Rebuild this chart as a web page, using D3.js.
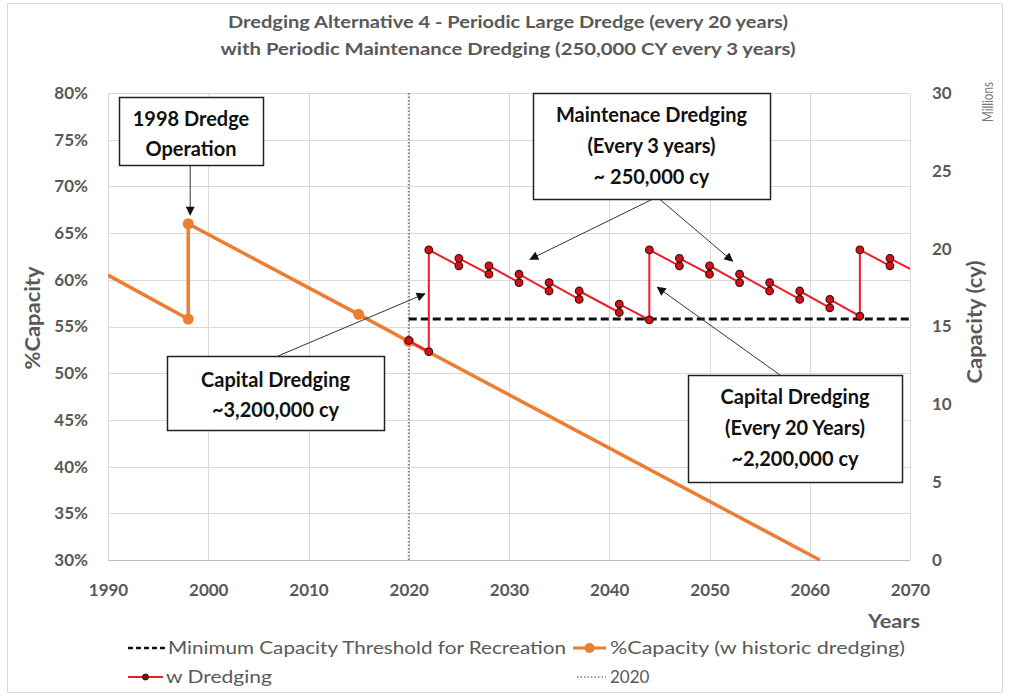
<!DOCTYPE html>
<html>
<head>
<meta charset="utf-8">
<script src="https://cdn.jsdelivr.net/npm/d3@7"></script>
<style>
  body { margin: 0; background: #fff; }
  svg text { font-family: Lato, "Open Sans", "DejaVu Sans", sans-serif; }
</style>
</head>
<body>
<svg id="chart" width="1010" height="696"></svg>
<script>
// ---- data ----
const titleLines = [
  "Dredging Alternative 4 - Periodic Large Dredge (every 20 years)",
  "with Periodic Maintenance Dredging (250,000 CY every 3 years)"
];

// historic capacity (%), with the 1998 dredge operation
const historicYears = [1990, 1998, 1998, 2015, 2020, 2061];
const historicPct   = [60.5, 55.8, 66.0, 56.3, 53.4, 30.0];
const historicMarked = [false, true, true, true, true, false];

// capacity with capital + maintenance dredging (%)
const dredgeYears = [2020, 2022, 2022, 2025, 2025, 2028, 2028, 2031, 2031, 2034, 2034,
                     2037, 2037, 2041, 2041, 2044, 2044, 2047, 2047, 2050, 2050, 2053, 2053,
                     2056, 2056, 2059, 2059, 2062, 2062, 2065, 2065, 2068, 2068, 2071];
const dredgePct   = [53.5, 52.3, 63.2, 61.5, 62.3, 60.6, 61.5, 59.7, 60.6, 58.8, 59.7,
                     57.9, 58.8, 56.5, 57.4, 55.7, 63.2, 61.5, 62.3, 60.6, 61.5, 59.7, 60.6,
                     58.8, 59.7, 57.9, 58.8, 57.0, 57.9, 56.1, 63.2, 61.5, 62.3, 60.6];

// minimum capacity threshold for recreation (%)
const thresholdYears = [2020, 2070];
const thresholdPct   = [55.8, 55.8];

// 2020 reference line
const refYears = [2020, 2020];
const refPct   = [30, 80];

const xTicks = [1990, 2000, 2010, 2020, 2030, 2040, 2050, 2060, 2070];
const leftTicks = [30, 35, 40, 45, 50, 55, 60, 65, 70, 75, 80];
const rightTicks = [0, 5, 10, 15, 20, 25, 30];

const legendLabels = [
  "Minimum Capacity Threshold for Recreation",
  "%Capacity (w historic dredging)",
  "w Dredging",
  "2020"
];

// ---- layout ----
const plot = { left: 108, right: 910, top: 93, bottom: 560 };
const grey = "#595959";
const orange = "#ED7D31";
const red = "#EE1C25";

const svg = d3.select("#chart");

const x = d3.scaleLinear().domain([1990, 2070]).range([plot.left, plot.right]);
const yL = d3.scaleLinear().domain([30, 80]).range([plot.bottom, plot.top]);
const yR = d3.scaleLinear().domain([0, 30]).range([plot.bottom, plot.top]);

function fit(sel, w) {
  sel.each(function () {
    const L = this.getComputedTextLength();
    if (Math.abs(L - w) / w > 0.015) {
      d3.select(this).attr("textLength", w).attr("lengthAdjust", "spacingAndGlyphs");
    }
  });
}

// outer frame
svg.append("rect").attr("x", 7.5).attr("y", 3.5).attr("width", 995).attr("height", 689)
  .attr("fill", "#fff").attr("stroke", "#d9d9d9");

// defs: clip + arrowhead
const defs = svg.append("defs");
defs.append("clipPath").attr("id", "plotClip").append("rect")
  .attr("x", plot.left).attr("y", plot.top - 10)
  .attr("width", plot.right - plot.left).attr("height", plot.bottom - plot.top + 20);
defs.append("marker").attr("id", "arrow").attr("viewBox", "0 0 10 10")
  .attr("refX", 9).attr("refY", 5).attr("markerWidth", 11).attr("markerHeight", 9)
  .attr("markerUnits", "userSpaceOnUse").attr("orient", "auto")
  .append("path").attr("d", "M0,0 L10,5 L0,10 Z").attr("fill", "#111");

// title
svg.append("g").selectAll("text").data(titleLines).join("text")
  .attr("x", 508).attr("y", (d, i) => 28 + i * 27)
  .attr("text-anchor", "middle").attr("font-size", 17).attr("font-weight", 700)
  .attr("fill", grey).text(d => d)
  .call(s => s.each(function (d, i) { fit(d3.select(this), i === 0 ? 560 : 575); }));

// gridlines
const grid = svg.append("g").attr("stroke", "#d9d9d9").attr("stroke-width", 1);
grid.selectAll(".h").data(leftTicks).join("line")
  .attr("x1", plot.left).attr("x2", plot.right)
  .attr("y1", d => Math.round(yL(d)) + 0.5).attr("y2", d => Math.round(yL(d)) + 0.5);
grid.selectAll(".v").data(xTicks).join("line")
  .attr("y1", plot.top).attr("y2", plot.bottom)
  .attr("x1", d => Math.round(x(d)) + 0.5).attr("x2", d => Math.round(x(d)) + 0.5);

// axes
const axisFont = g => {
  g.select(".domain").remove();
  g.selectAll("text").attr("fill", grey).attr("font-size", 17).attr("font-weight", 700)
    .attr("font-family", "Lato, 'Open Sans', sans-serif");
};
svg.append("g").attr("transform", `translate(${plot.left},0)`)
  .call(d3.axisLeft(yL).tickValues(leftTicks).tickFormat(d => d + "%").tickSize(0).tickPadding(20))
  .call(axisFont);
svg.append("g").attr("transform", `translate(${plot.right},0)`)
  .call(d3.axisRight(yR).tickValues(rightTicks).tickFormat(d3.format("d")).tickSize(0).tickPadding(22))
  .call(axisFont);
svg.append("g").attr("transform", `translate(0,${plot.bottom})`)
  .call(d3.axisBottom(x).tickValues(xTicks).tickFormat(d3.format("d")).tickSize(0).tickPadding(24))
  .call(axisFont);
svg.append("line").attr("x1", plot.left).attr("x2", plot.right)
  .attr("y1", plot.bottom + 0.5).attr("y2", plot.bottom + 0.5).attr("stroke", "#bfbfbf");

// axis titles
svg.append("text").attr("transform", `translate(40,318) rotate(-90)`)
  .attr("text-anchor", "middle").attr("font-size", 20).attr("font-weight", 700)
  .attr("fill", grey).text("%Capacity").call(fit, 103);
svg.append("text").attr("transform", `translate(982,322) rotate(-90)`)
  .attr("text-anchor", "middle").attr("font-size", 20).attr("font-weight", 700)
  .attr("fill", grey).text("Capacity (cy)").call(fit, 123);
svg.append("text").attr("transform", `translate(993,102) rotate(-90)`)
  .attr("text-anchor", "middle").attr("font-size", 16)
  .attr("fill", "#7a7a7a").text("Millions").call(fit, 40);
svg.append("text").attr("x", 920).attr("y", 628).attr("text-anchor", "end")
  .attr("font-size", 18).attr("font-weight", 700).attr("fill", grey).text("Years").call(fit, 52);

// series
const historic = historicYears.map((yr, i) => ({ yr, v: historicPct[i], m: historicMarked[i] }));
const dredge = dredgeYears.map((yr, i) => ({ yr, v: dredgePct[i] }));
const threshold = thresholdYears.map((yr, i) => ({ yr, v: thresholdPct[i] }));
const ref = refYears.map((yr, i) => ({ yr, v: refPct[i] }));
const line = d3.line().x(d => x(d.yr)).y(d => yL(d.v));

const plotG = svg.append("g").attr("clip-path", "url(#plotClip)");

// 2020 reference
plotG.append("path").datum(ref).attr("d", line).attr("fill", "none")
  .attr("stroke", "#7f7f7f").attr("stroke-width", 2).attr("stroke-dasharray", "1.5,2");

// threshold
plotG.append("path").datum(threshold).attr("d", line).attr("fill", "none")
  .attr("stroke", "#111").attr("stroke-width", 3).attr("stroke-dasharray", "8,4");

// historic
plotG.append("path").datum(historic).attr("d", line).attr("fill", "none")
  .attr("stroke", orange).attr("stroke-width", 3.5).attr("stroke-linejoin", "round");
plotG.selectAll(".hm").data(historic.filter(d => d.m)).join("circle")
  .attr("cx", d => x(d.yr)).attr("cy", d => yL(d.v)).attr("r", 5.5).attr("fill", orange);

// with dredging
plotG.append("path").datum(dredge).attr("d", line).attr("fill", "none")
  .attr("stroke", red).attr("stroke-width", 2);
plotG.selectAll(".dm").data(dredge).join("circle")
  .attr("cx", d => x(d.yr)).attr("cy", d => yL(d.v)).attr("r", 3.8)
  .attr("fill", "#D0131B").attr("stroke", "#4a0a0a").attr("stroke-width", 1.2);

// annotations
const notes = [
  { box: [119, 97, 144, 68], lines: ["1998 Dredge", "Operation"], ly: [126, 156],
    arrows: [{ from: [x(1998) + 2, 165], to: [x(1998) + 2, yL(66) - 9] }] },
  { box: [167, 356, 217, 74], lines: ["Capital Dredging", "~3,200,000 cy"], ly: [387, 417],
    arrows: [{ from: [278, 356], to: [x(2021.6), yL(58.5)] }] },
  { box: [533, 93, 237, 106], lines: ["Maintenace Dredging", "(Every 3 years)", "~ 250,000 cy"], ly: [122, 153, 184],
    arrows: [{ from: [657, 197], to: [x(2032.1), yL(62.2)] },
             { from: [657, 197], to: [x(2052.3), yL(62.0)] }] },
  { box: [688, 375, 214, 107], lines: ["Capital Dredging", "(Every 20 Years)", "~2,200,000 cy"], ly: [404, 435, 466],
    arrows: [{ from: [780, 375], to: [x(2044.8), yL(59.2)] }] }
];
const noteG = svg.append("g");
notes.forEach(n => {
  n.arrows.forEach(a => {
    noteG.append("line").attr("x1", a.from[0]).attr("y1", a.from[1])
      .attr("x2", a.to[0]).attr("y2", a.to[1])
      .attr("stroke", "#333").attr("stroke-width", 1).attr("marker-end", "url(#arrow)");
  });
});
notes.forEach(n => {
  const [bx, by, bw, bh] = n.box;
  noteG.append("rect").attr("x", bx + 0.5).attr("y", by + 0.5).attr("width", bw).attr("height", bh)
    .attr("fill", "#fff").attr("stroke", "#222").attr("stroke-width", 1.5);
  n.lines.forEach((t, i) => {
    noteG.append("text").attr("x", bx + bw / 2).attr("y", n.ly[i]).attr("text-anchor", "middle")
      .attr("font-size", 20).attr("font-weight", 700).attr("fill", "#111").text(t);
  });
});

// legend
const leg = svg.append("g").attr("font-size", 17).attr("fill", grey);
const legendItems = [
  { sx: 128, ex: 165, tx: 168, y: 648, w: 398, kind: "thr" },
  { sx: 573, ex: 606, tx: 610, y: 648, w: 295, kind: "hist" },
  { sx: 128, ex: 163, tx: 166, y: 677, w: 106, kind: "dredge" },
  { sx: 577, ex: 606, tx: 610, y: 677, w: 0, kind: "ref" }
];
legendItems.forEach((it, i) => {
  const ln = leg.append("line").attr("x1", it.sx).attr("x2", it.ex).attr("y1", it.y).attr("y2", it.y);
  if (it.kind === "thr") ln.attr("stroke", "#111").attr("stroke-width", 2.5).attr("stroke-dasharray", "5,3");
  if (it.kind === "hist") {
    ln.attr("stroke", orange).attr("stroke-width", 3);
    leg.append("circle").attr("cx", (it.sx + it.ex) / 2).attr("cy", it.y).attr("r", 5).attr("fill", orange);
  }
  if (it.kind === "dredge") {
    ln.attr("stroke", red).attr("stroke-width", 2);
    leg.append("circle").attr("cx", (it.sx + it.ex) / 2).attr("cy", it.y).attr("r", 3)
      .attr("fill", "#8b0a0a").attr("stroke", "#3a0606");
  }
  if (it.kind === "ref") ln.attr("stroke", "#7f7f7f").attr("stroke-width", 1.5).attr("stroke-dasharray", "1.5,2");
  const t = leg.append("text").attr("x", it.tx).attr("y", it.y + 6).attr("fill", grey)
    .text(legendLabels[i]);
  if (it.w) t.call(fit, it.w);
});
</script>
</body>
</html>
